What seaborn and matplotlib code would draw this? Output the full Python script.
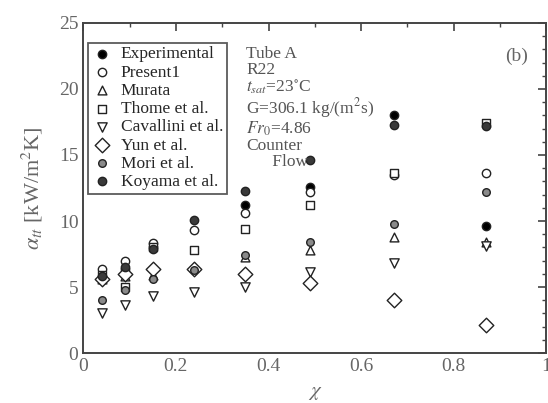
import numpy as np
import pandas as pd
import matplotlib
matplotlib.use("Agg")
import matplotlib.pyplot as plt
import seaborn as sns
from matplotlib.ticker import MultipleLocator

# vapour quality of each test point
quality = [0.04, 0.09, 0.15, 0.24, 0.35, 0.49, 0.67, 0.87]

# heat transfer coefficients [kW/m2K]
experimental = [5.7, 6.4, 8.0, 6.4, 11.2, 12.6, 18.0, 9.6]
present1 = [6.4, 7.0, 8.3, 9.3, 10.6, 12.2, 13.5, 13.6]
murata = [5.6, 5.8, 5.9, 6.5, 7.3, 7.8, 8.8, 8.4]
thome = [5.9, 5.0, 8.0, 7.8, 9.4, 11.2, 13.6, 17.4]
cavallini = [3.0, 3.6, 4.3, 4.6, 5.0, 6.1, 6.8, 8.1]
yun = [5.6, 6.0, 6.4, 6.4, 6.0, 5.3, 4.0, 2.1]
mori = [4.0, 4.8, 5.6, 6.3, 7.4, 8.4, 9.8, 12.2]
koyama = [5.8, 6.5, 7.9, 10.1, 12.3, 14.6, 17.3, 17.2]

labels = ["Experimental", "Present1", "Murata", "Thome et al.",
          "Cavallini et al.", "Yun et al.", "Mori et al.", "Koyama et al."]
series = [experimental, present1, murata, thome, cavallini, yun, mori, koyama]

x_ticks = [0, 0.2, 0.4, 0.6, 0.8, 1.0]
x_ticklabels = ["0", "0.2", "0.4", "0.6", "0.8", "1"]
y_ticks = [0, 5, 10, 15, 20, 25]

# marker, face colour, size
styles = {
    "Experimental": ("o", "black", 36),
    "Present1": ("o", "white", 36),
    "Murata": ("^", "white", 40),
    "Thome et al.": ("s", "white", 36),
    "Cavallini et al.": ("v", "white", 45),
    "Yun et al.": ("D", "white", 55),
    "Mori et al.": ("o", "#8a8a8a", 30),
    "Koyama et al.": ("o", "#3a3a3a", 36),
}

df = pd.DataFrame({
    "x": np.tile(quality, len(labels)),
    "h": np.concatenate(series),
    "model": np.repeat(labels, len(quality)),
})

sns.set_style("white")
plt.rcParams["font.family"] = ["Liberation Serif", "DejaVu Serif"]
plt.rcParams["mathtext.fontset"] = "stix"

fig = plt.figure(figsize=(5.48, 4.03), dpi=100)
ax = fig.add_axes([0.152, 0.124, 0.845, 0.819])

for name in labels:
    m, fc, s = styles[name]
    sub = df[df["model"] == name]
    sns.scatterplot(data=sub, x="x", y="h", marker=m, s=s, color=fc,
                    edgecolor="#222222", linewidth=1.0, label=name, ax=ax, zorder=3)

ax.set_xlim(0, 1)
ax.set_ylim(0, 25)
ax.set_xticks(x_ticks, x_ticklabels)
ax.set_yticks(y_ticks, [str(v) for v in y_ticks])
ax.xaxis.set_minor_locator(MultipleLocator(0.1))
ax.yaxis.set_minor_locator(MultipleLocator(1))
ax.tick_params(which="both", direction="in", top=True, right=True,
               colors="#444444", labelcolor="#666666", labelsize=14)
ax.tick_params(which="major", length=6, width=1.2)
ax.tick_params(which="minor", length=3, width=1.0)
for sp in ax.spines.values():
    sp.set_color("#444444")
    sp.set_linewidth(1.4)

ax.set_xlabel(r"$\chi$", fontsize=15, color="#666666", labelpad=6)
ax.set_ylabel(r"$\alpha_{tt}$ [kW/m$^2$K]", fontsize=16, color="#666666", labelpad=10)

leg = ax.legend(loc="upper left", bbox_to_anchor=(0.01, 0.94), fontsize=12.5,
                frameon=True, fancybox=False, edgecolor="#333333",
                handletextpad=0.5, borderpad=0.2, labelspacing=0.12,
                handlelength=1.2, borderaxespad=0.0)
leg.get_frame().set_linewidth(1.3)

info = ("Tube A\nR22\n$t_{sat}$=23$^{\\circ}$C\nG=306.1 kg/(m$^2$s)\n"
        "$Fr_0$=4.86\nCounter\n      Flow")
ax.text(0.352, 0.93, info, transform=ax.transAxes, fontsize=12.5,
        color="#555555", va="top", ha="left", linespacing=1.0)
ax.text(0.96, 0.9, "(b)", transform=ax.transAxes, fontsize=14,
        color="#666666", va="center", ha="right")

fig.savefig("out.png", dpi=100)
